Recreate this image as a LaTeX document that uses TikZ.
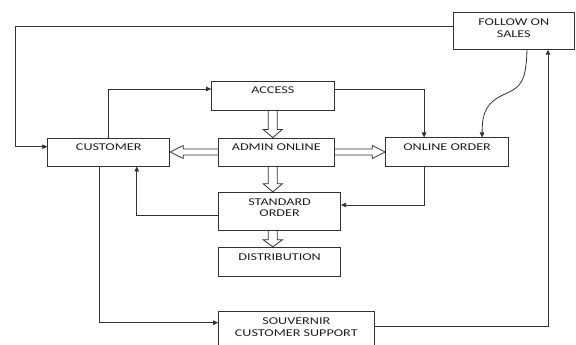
\documentclass[tikz,border=0pt]{standalone}
\usepackage{fontspec}
\setmainfont{Carlito}[FakeStretch=1.36]
\usetikzlibrary{arrows.meta,calc}
\tikzset{
  box/.style={draw=black!80, line width=0.9pt, inner sep=0pt, fill=none},
  txt/.style={anchor=north, inner sep=0pt, align=center, text=black!88,
    font=\fontsize{10.4}{11.8}\selectfont},
  conn/.style={draw=black!80, line width=0.8pt, -{Triangle[length=5pt,width=4.5pt]}},
  hol/.style={draw=black!80, line width=0.8pt, line join=miter}
}
\begin{document}
\begin{tikzpicture}[x=1pt,y=1pt]
\useasboundingbox (0,0) rectangle (576,345);
\fill[white] (0,0) rectangle (576,345);
\clip (0,0) rectangle (576,345);
% boxes
\node[box, minimum width=121.5pt, minimum height=36.6pt] (follow) at (513.75,314) {};
\node[box, minimum width=122.4pt, minimum height=29pt] (access) at (272.8,249.5) {};
\node[box, minimum width=122pt, minimum height=28pt] (cust) at (108.75,193) {};
\node[box, minimum width=115.4pt, minimum height=28pt] (admin) at (276.3,193) {};
\node[box, minimum width=122.8pt, minimum height=28.5pt] (online) at (447.1,192.8) {};
\node[box, minimum width=122pt, minimum height=38pt] (std) at (279.6,133.7) {};
\node[box, minimum width=122pt, minimum height=29pt] (dist) at (279.6,83.2) {};
\node[box, minimum width=155.4pt, minimum height=38.3pt] (souv) at (296.3,14.15) {};
% texts
\node[txt] (tfollow) at ([yshift=-6.3pt]follow.north) {FOLLOW ON\\SALES};
\node[txt] (taccess) at ([yshift=-6.3pt]access.north) {ACCESS};
\node[txt] (tcust) at ([yshift=-6.3pt]cust.north) {CUSTOMER};
\node[txt] (tadmin) at ([yshift=-6.3pt]admin.north) {ADMIN ONLINE};
\node[txt] (tonline) at ([yshift=-6.3pt]online.north) {ONLINE ORDER};
\node[txt] (tstd) at ([yshift=-6.3pt]std.north) {STANDARD\\ORDER};
\node[txt] (tdist) at ([yshift=-6.3pt]dist.north) {DISTRIBUTION};
\node[txt] (tsouv) at ([yshift=-6.3pt]souv.north) {SOUVERNIR\\CUSTOMER SUPPORT};
% connectors
\coordinate (l1) at (15.4,319);
\coordinate (bend) at (505,251);
\draw[conn] ([yshift=5pt]follow.west) -- (l1) |- ([yshift=5.3pt]cust.west);
\draw[conn] (cust.north) |- ([yshift=6.5pt]access.west);
\draw[conn] ([yshift=6.5pt]access.east) -| ([xshift=-23pt]online.north);
\draw[conn] ([xshift=13.25pt]follow.south) .. controls +(-1,-34) and +(15,7) .. (bend)
   .. controls +(-18,-8) and +(0,26) .. ([xshift=35pt]online.north);
\draw[conn] ([yshift=4.2pt]souv.east) -| ([xshift=34.25pt]follow.south);
\draw[conn] ([xshift=-23pt]online.south) |- ([yshift=6.3pt]std.east);
\draw[conn] ([yshift=-4.4pt]std.west) -| ([xshift=28pt]cust.south);
\draw[conn] ([xshift=-9.75pt]cust.south) |- ([yshift=8.15pt]souv.west);
% hollow arrows
\draw[hol] let \p1=(access.south), \p2=(admin.north) in
  (\x1-4.5pt,\y1) -- (\x1-4.5pt,\y2+8pt) -- (\x1-9.5pt,\y2+8pt) -- (\x1,\y2)
  -- (\x1+9.5pt,\y2+8pt) -- (\x1+4.5pt,\y2+8pt) -- (\x1+4.5pt,\y1);
\draw[hol] let \p1=(access.south), \p2=(admin.south), \p3=(std.north) in
  (\x1-4.5pt,\y2) -- (\x1-4.5pt,\y3+8pt) -- (\x1-9.5pt,\y3+8pt) -- (\x1,\y3)
  -- (\x1+9.5pt,\y3+8pt) -- (\x1+4.5pt,\y3+8pt) -- (\x1+4.5pt,\y2);
\draw[hol] let \p1=(access.south), \p2=(std.south), \p3=(dist.north) in
  (\x1-4.5pt,\y2) -- (\x1-4.5pt,\y3+7pt) -- (\x1-9.5pt,\y3+7pt) -- (\x1,\y3)
  -- (\x1+9.5pt,\y3+7pt) -- (\x1+4.5pt,\y3+7pt) -- (\x1+4.5pt,\y2);
\draw[hol] let \p1=(admin.west), \p2=(cust.east) in
  (\x1,\y1+3pt) -- (\x2+13pt,\y1+3pt) -- (\x2+13pt,\y1+6.5pt) -- (\x2,\y1)
  -- (\x2+13pt,\y1-6.5pt) -- (\x2+13pt,\y1-3pt) -- (\x1,\y1-3pt);
\draw[hol] let \p1=(admin.east), \p2=(online.west) in
  (\x1,\y1+3pt) -- (\x2-13pt,\y1+3pt) -- (\x2-13pt,\y1+6.5pt) -- (\x2,\y1)
  -- (\x2-13pt,\y1-6.5pt) -- (\x2-13pt,\y1-3pt) -- (\x1,\y1-3pt);
\end{tikzpicture}
\end{document}
